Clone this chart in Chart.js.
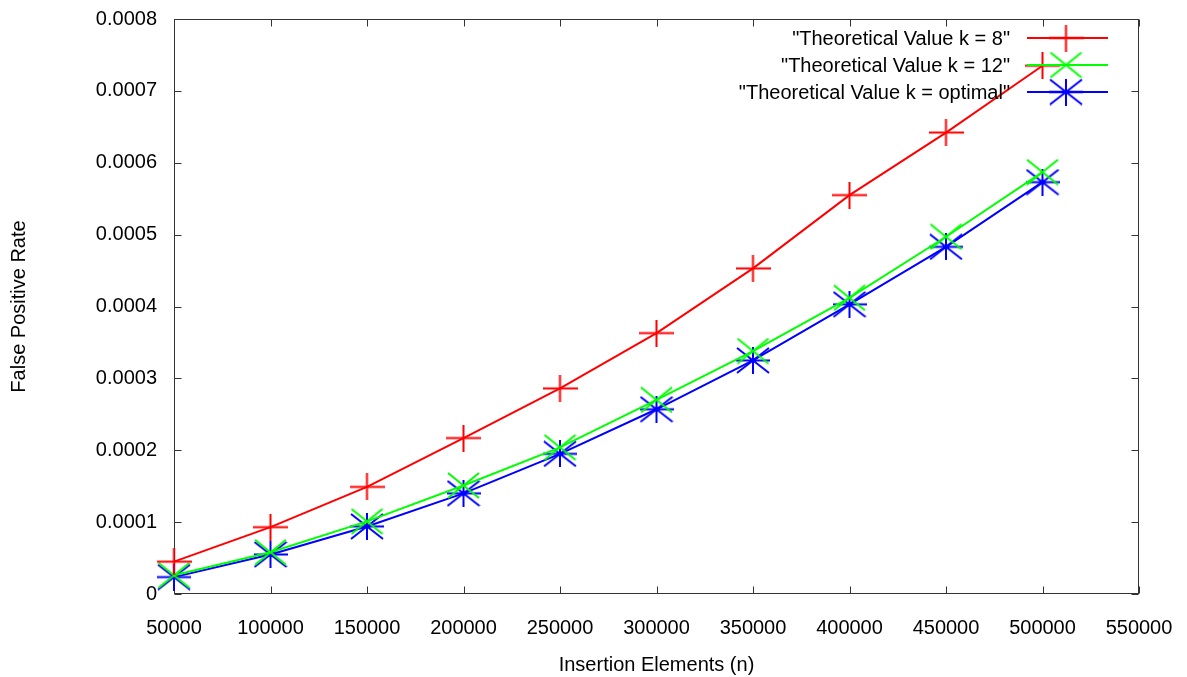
<!DOCTYPE html>
<html><head><meta charset="utf-8">
<script src="https://cdn.jsdelivr.net/npm/chart.js@4.4.1/dist/chart.umd.min.js"></script>
<style>html,body{margin:0;padding:0;background:#fff;}#wrap{width:1187px;height:677px;position:relative;}</style>
</head><body><div id="wrap"><canvas id="c" width="1187" height="677"></canvas></div>
<script>
const insertionElements = [50000, 100000, 150000, 200000, 250000, 300000, 350000, 400000, 450000, 500000];
const k8Values       = [0.000045, 0.000093, 0.000149, 0.000217, 0.000286, 0.000363, 0.000453, 0.000555, 0.000642, 0.000735];
const k12Values      = [0.000026, 0.000058, 0.000101, 0.000151, 0.000204, 0.000270, 0.000338, 0.000412, 0.000497, 0.000587];
const kOptimalValues = [0.0000235, 0.000055, 0.000094, 0.000140, 0.000195, 0.000257, 0.000325, 0.000403, 0.000483, 0.000573];
const seriesLabels = ['"Theoretical Value k = 8"', '"Theoretical Value k = 12"', '"Theoretical Value k = optimal"'];
const xTickValues = [50000, 100000, 150000, 200000, 250000, 300000, 350000, 400000, 450000, 500000, 550000];
const yTickValues = [0, 0.0001, 0.0002, 0.0003, 0.0004, 0.0005, 0.0006, 0.0007, 0.0008];
const yTickLabels = ['0', '0.0001', '0.0002', '0.0003', '0.0004', '0.0005', '0.0006', '0.0007', '0.0008'];

const FONT = '"Liberation Sans", Arial, sans-serif';

function makeMarker(color, w, h, kind) {
  const c = document.createElement('canvas'); c.width = w; c.height = h;
  const g = c.getContext('2d'); g.strokeStyle = color; g.lineWidth = 2;
  g.beginPath();
  if (kind.indexOf('+') >= 0) { g.moveTo(0, h / 2); g.lineTo(w, h / 2); g.moveTo(w / 2, 0); g.lineTo(w / 2, h); }
  if (kind.indexOf('x') >= 0) { g.moveTo(1, 1); g.lineTo(w - 1, h - 1); g.moveTo(w - 1, 1); g.lineTo(1, h - 1); }
  g.stroke();
  return c;
}
const markerPlus = makeMarker('#ff0000', 35, 27, '+');
const markerX = makeMarker('#00ff00', 33, 27, 'x');
const markerStar = makeMarker('#0000ff', 34, 27, '+x');

function pts(vals) { return insertionElements.map((x, i) => ({ x: x, y: vals[i] })); }

const frameTicks = {
  id: 'frameTicks',
  beforeDatasetsDraw(chart) {
    const { ctx, chartArea: a, scales: { x, y } } = chart;
    ctx.save();
    ctx.strokeStyle = '#333'; ctx.lineWidth = 1;
    const L = Math.round(a.left) + 0.5, R = Math.round(a.right) - 0.5, T = Math.round(a.top) + 0.5, B = Math.round(a.bottom) - 0.5;
    ctx.strokeRect(L, T, R - L, B - T);
    ctx.beginPath();
    xTickValues.forEach(v => {
      const px = Math.round(x.getPixelForValue(v)) + 0.5;
      ctx.moveTo(px, B); ctx.lineTo(px, B - 7);
      ctx.moveTo(px, T); ctx.lineTo(px, T + 7);
    });
    yTickValues.forEach(v => {
      const py = Math.round(y.getPixelForValue(v)) + 0.5;
      ctx.moveTo(L, py); ctx.lineTo(L + 7, py);
      ctx.moveTo(R, py); ctx.lineTo(R - 7, py);
    });
    ctx.stroke();
    ctx.restore();
  }
};

const keyBox = {
  id: 'keyBox',
  afterDatasetsDraw(chart) {
    const { ctx, chartArea: a } = chart;
    ctx.save();
    ctx.font = '20px ' + FONT;
    ctx.textAlign = 'right'; ctx.textBaseline = 'middle'; ctx.fillStyle = '#000';
    chart.data.datasets.forEach((ds, i) => {
      const yy = a.top + 19 + i * 27;
      ctx.fillText(ds.label, a.right - 129, yy + 1);
      ctx.strokeStyle = ds.borderColor; ctx.lineWidth = 2;
      ctx.beginPath(); ctx.moveTo(a.right - 112, yy); ctx.lineTo(a.right - 31, yy); ctx.stroke();
      const img = ds.pointStyle;
      ctx.drawImage(img, a.right - 73 - img.width / 2, yy - img.height / 2);
    });
    ctx.restore();
  }
};

function ds(label, vals, color, marker) {
  return { label: label, data: pts(vals), borderColor: color, backgroundColor: color, borderWidth: 2,
    pointStyle: marker, pointRadius: 17, pointHoverRadius: 17, tension: 0, fill: false, clip: false };
}

new Chart(document.getElementById('c'), {
  type: 'line',
  data: {
    datasets: [
      ds(seriesLabels[0], k8Values, '#ff0000', markerPlus),
      ds(seriesLabels[1], k12Values, '#00ff00', markerX),
      ds(seriesLabels[2], kOptimalValues, '#0000ff', markerStar)
    ]
  },
  options: {
    responsive: false, animation: false, devicePixelRatio: 1,
    layout: { padding: { top: 16, right: 48, left: 0, bottom: 0 } },
    plugins: { legend: { display: false }, tooltip: { enabled: false } },
    scales: {
      x: {
        type: 'linear', min: 50000, max: 550000,
        afterBuildTicks: s => { s.ticks = xTickValues.map(v => ({ value: v })); },
        afterFit: s => { s.height = 83; s.paddingLeft = 0; s.paddingRight = 0; },
        grid: { display: false, drawTicks: false }, border: { display: false },
        ticks: { padding: 22, color: '#000', font: { family: FONT, size: 20 }, maxRotation: 0, autoSkip: false,
          callback: v => String(v) },
        title: { display: true, text: 'Insertion Elements (n)', color: '#000', font: { family: FONT, size: 20 }, padding: { top: 0, bottom: 0 } }
      },
      y: {
        type: 'linear', min: 0, max: 0.0008,
        afterBuildTicks: s => { s.ticks = yTickValues.map(v => ({ value: v })); },
        afterFit: s => { s.width = 174; s.paddingTop = 0; s.paddingBottom = 0; },
        grid: { display: false, drawTicks: false }, border: { display: false },
        ticks: { padding: 17, color: '#000', font: { family: FONT, size: 20 }, autoSkip: false,
          callback: (v, i) => yTickLabels[i] },
        title: { display: true, text: 'False Positive Rate', color: '#000', font: { family: FONT, size: 20 }, padding: { top: 7, bottom: 0 } }
      }
    }
  },
  plugins: [frameTicks, keyBox]
});
</script></body></html>
